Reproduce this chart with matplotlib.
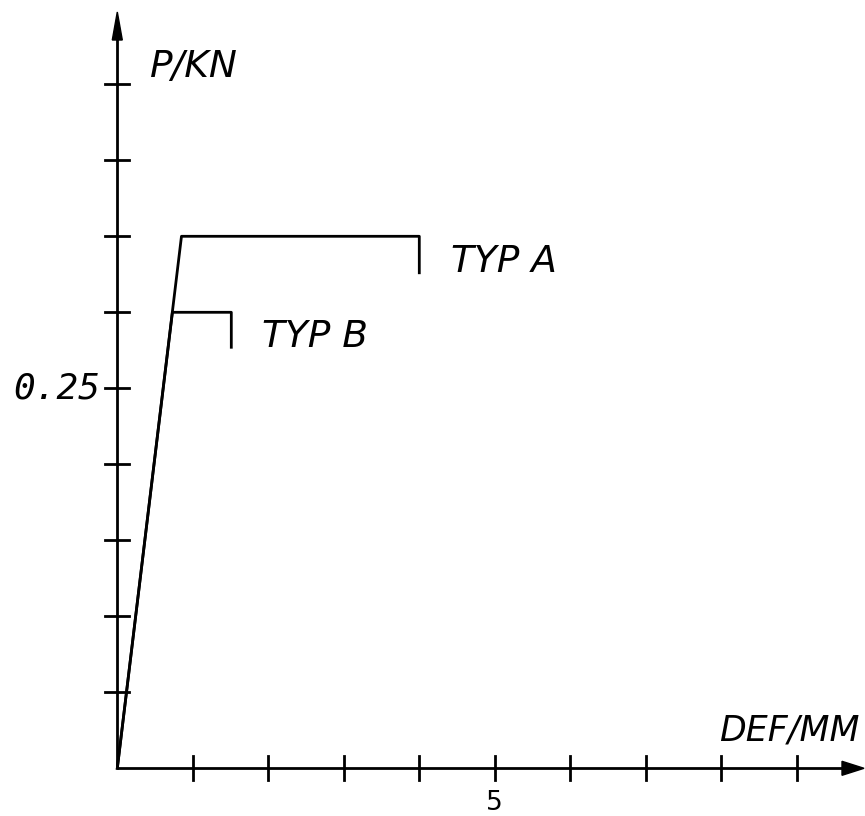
import matplotlib
matplotlib.use("Agg")
import matplotlib.pyplot as plt
import numpy as np

# ---- data ----
typ_a_x = [0.0, 0.85, 4.0, 4.0]
typ_a_y = [0.0, 0.35, 0.35, 0.326]
typ_b_x = [0.0, 0.73, 1.51, 1.51]
typ_b_y = [0.0, 0.30, 0.30, 0.277]
x_ticks = [1, 2, 3, 4, 5, 6, 7, 8, 9]
y_ticks = [0.05, 0.10, 0.15, 0.20, 0.25, 0.30, 0.35, 0.40, 0.45]
x_tick_labels = {5: "5"}
y_tick_labels = {0.25: "0.25"}
series_labels = ["TYP A", "TYP B"]
x_title = "DEF/MM"
y_title = "P/KN"

W, H = 865, 816
fig = plt.figure(figsize=(W / 100, H / 100), dpi=100)
ax = fig.add_axes([0, 0, 1, 1])
ax.set_axis_off()

x0px, y0px = 117.3, 768.3
sx = 75.5      # px per mm
sy = 1520.0    # px per kN
ax.set_xlim(-x0px / sx, (W - x0px) / sx)
ax.set_ylim(-(H - y0px) / sy, y0px / sy)

fam = ['DejaVu Sans']
lw = 2.0
col = 'black'

# axes lines with arrows
xmax_tip = (W - 1 - x0px) / sx
ymax_tip = (y0px - 12) / sy
ax.plot([0, xmax_tip - 20 / sx], [0, 0], color=col, lw=lw, solid_capstyle='butt')
ax.plot([0, 0], [0, ymax_tip - 25 / sy], color=col, lw=lw, solid_capstyle='butt')
ax.add_patch(plt.Polygon([[xmax_tip, 0], [xmax_tip - 22 / sx, 7 / sy], [xmax_tip - 22 / sx, -7 / sy]],
                         closed=True, color=col))
ax.add_patch(plt.Polygon([[0, ymax_tip], [-5 / sx, ymax_tip - 28 / sy], [5 / sx, ymax_tip - 28 / sy]],
                         closed=True, color=col))

# ticks
tl = 12
for xt in x_ticks:
    ax.plot([xt, xt], [-tl / sy, tl / sy], color=col, lw=lw)
for yt in y_ticks:
    ax.plot([-tl / sx, tl / sx], [yt, yt], color=col, lw=lw)

# tick labels
for xt, lab in x_tick_labels.items():
    ax.text(xt, -(790 - y0px) / sy, lab, ha='center', va='top', fontsize=19,
            family=fam, color=col)
for yt, lab in y_tick_labels.items():
    ax.text(-(117.3 - 100) / sx, yt, lab, ha='right', va='center', fontsize=26,
            family=['DejaVu Sans Mono'], style='italic', color=col)

# series
ax.plot(typ_a_x, typ_a_y, color=col, lw=lw)
ax.plot(typ_b_x, typ_b_y, color=col, lw=lw)

tfs = 27
ax.text(typ_a_x[-1] + (452 - 420) / sx, typ_a_y[-1] - (272 - 273) / sy, series_labels[0],
        ha='left', va='baseline', fontsize=tfs, family=fam, style='italic', color=col)
ax.text(typ_b_x[-1] + (262 - 231.7) / sx, typ_b_y[-1] - (346 - 346.7) / sy, series_labels[1],
        ha='left', va='baseline', fontsize=tfs, family=fam, style='italic', color=col)

# axis titles
ax.text((860 - x0px) / sx, (y0px - 740) / sy, x_title, ha='right', va='baseline',
        fontsize=25, family=fam, style='italic', color=col)
ax.text((150 - x0px) / sx, (y0px - 77) / sy, y_title, ha='left', va='baseline',
        fontsize=tfs, family=fam, style='italic', color=col)

fig.savefig("out.png", dpi=100, facecolor='white')
